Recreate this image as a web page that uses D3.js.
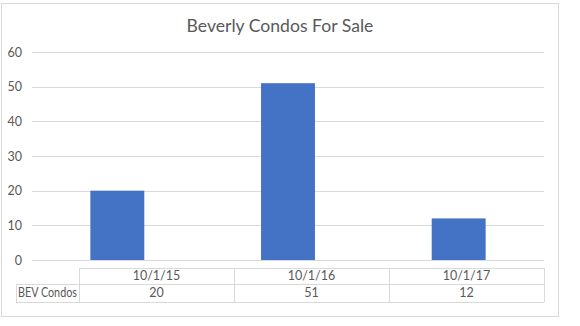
<!DOCTYPE html>
<html>
<head>
<meta charset="utf-8">
<script src="https://cdn.jsdelivr.net/npm/d3@7"></script>
<style>
  html, body { margin: 0; padding: 0; background: #fff; }
  svg { display: block; }
  text { font-family: Lato, "Open Sans", sans-serif; fill: #595959; }
</style>
</head>
<body>
<svg id="chart" width="580" height="326"></svg>
<script>
// Chart data
const categories = ["10/1/15", "10/1/16", "10/1/17"];
const seriesName = "BEV Condos";
const values = [20, 51, 12];
const yTicks = [0, 10, 20, 30, 40, 50, 60];
const title = "Beverly Condos For Sale";

const svg = d3.select("#chart");

// Chart frame
svg.append("rect")
  .attr("x", 1.5).attr("y", 3.5)
  .attr("width", 557).attr("height", 313)
  .attr("fill", "#fff").attr("stroke", "#d9d9d9");

// Title
svg.append("text")
  .attr("x", 280).attr("y", 32)
  .attr("text-anchor", "middle")
  .style("font-size", "17.6px")
  .text(title);

const plotLeft = 32, plotRight = 544;
const y = d3.scaleLinear().domain([0, 60]).range([260, 52]);
const x = d3.scaleBand().domain(categories).range([plotLeft, plotRight])
  .paddingInner(0.684).paddingOuter(0.342);

// Gridlines and value labels
const yAxis = d3.axisLeft(y).tickValues(yTicks).tickSize(-(plotRight - plotLeft)).tickPadding(10);
const gy = svg.append("g").attr("transform", `translate(${plotLeft},0)`).call(yAxis);
gy.select(".domain").remove();
gy.selectAll(".tick line").attr("stroke", "#d9d9d9").attr("stroke-width", 1)
  .attr("shape-rendering", "crispEdges");
gy.selectAll(".tick text").attr("fill", "#595959").style("font-size", "12.5px")
  .style("font-family", "Lato, 'Open Sans', sans-serif");

// Bars
svg.append("g").selectAll("rect").data(values).join("rect")
  .attr("x", (d, i) => x(categories[i]))
  .attr("y", d => y(d))
  .attr("width", x.bandwidth())
  .attr("height", d => y(0) - y(d))
  .attr("fill", "#4472c4");

// Data table below the plot
const tableLeft = 79, headerLeft = 16;
const rowTop = 268, rowMid = 284, rowBottom = 302;
const col = d3.scaleBand().domain(categories).range([tableLeft, plotRight]);
const tbl = svg.append("g").attr("shape-rendering", "crispEdges")
  .attr("stroke", "#d9d9d9").attr("fill", "none");

tbl.append("line").attr("x1", tableLeft).attr("x2", plotRight).attr("y1", rowTop + 0.5).attr("y2", rowTop + 0.5);
tbl.append("line").attr("x1", headerLeft).attr("x2", plotRight).attr("y1", rowMid + 0.5).attr("y2", rowMid + 0.5);
tbl.append("line").attr("x1", headerLeft).attr("x2", plotRight).attr("y1", rowBottom + 0.5).attr("y2", rowBottom + 0.5);
tbl.append("line").attr("x1", headerLeft + 0.5).attr("x2", headerLeft + 0.5).attr("y1", rowMid).attr("y2", rowBottom);
const colEdges = categories.map(c => col(c)).concat([plotRight]);
tbl.selectAll("line.v").data(colEdges).join("line").attr("class", "v")
  .attr("x1", d => d + 0.5).attr("x2", d => d + 0.5)
  .attr("y1", rowTop).attr("y2", rowBottom);

svg.append("g").selectAll("text").data(categories).join("text")
  .attr("x", d => col(d) + col.bandwidth() / 2)
  .attr("y", 280)
  .attr("text-anchor", "middle")
  .style("font-size", "12.5px")
  .text(d => d);

svg.append("g").selectAll("text").data(values).join("text")
  .attr("x", (d, i) => col(categories[i]) + col.bandwidth() / 2)
  .attr("y", 297)
  .attr("text-anchor", "middle")
  .style("font-size", "12.5px")
  .text(d => d);

svg.append("text")
  .attr("x", 18).attr("y", 297)
  .style("font-size", "12.5px")
  .attr("textLength", 59)
  .attr("lengthAdjust", "spacingAndGlyphs")
  .text(seriesName);
</script>
</body>
</html>
